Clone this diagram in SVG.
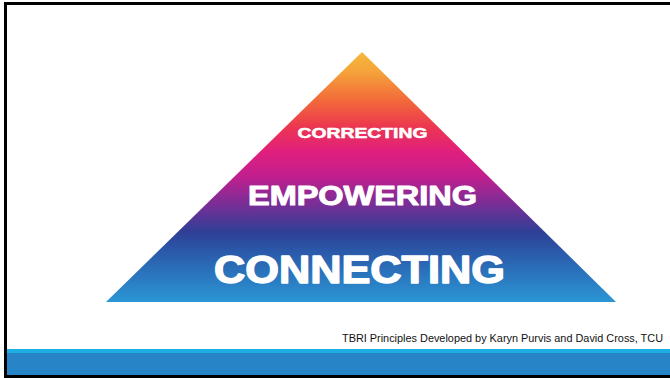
<svg xmlns="http://www.w3.org/2000/svg" width="670" height="378" viewBox="0 0 670 378">
  <defs>
    <linearGradient id="pyr" x1="0" y1="52" x2="0" y2="302" gradientUnits="userSpaceOnUse">
      <stop offset="0" stop-color="#F6B83A"/>
      <stop offset="0.08" stop-color="#F5A23A"/>
      <stop offset="0.2" stop-color="#F2673A"/>
      <stop offset="0.3" stop-color="#EC3650"/>
      <stop offset="0.4" stop-color="#E01F7E"/>
      <stop offset="0.5" stop-color="#C01F8E"/>
      <stop offset="0.61" stop-color="#782E96"/>
      <stop offset="0.72" stop-color="#2E3F96"/>
      <stop offset="0.8" stop-color="#2A5AAA"/>
      <stop offset="1" stop-color="#2B96D5"/>
    </linearGradient>
  </defs>
  <style>
    .lbl { font-family: "Liberation Sans", Arial, sans-serif; font-weight: bold; fill: #FFFFFF; stroke: #FFFFFF; stroke-linejoin: round; text-anchor: middle; }
    .foot { font-family: "Liberation Sans", Arial, sans-serif; font-size: 10.5px; fill: #111111; }
  </style>
  <rect x="0" y="0" width="670" height="378" fill="#FFFFFF"/>
  <!-- frame -->
  <rect x="4" y="2" width="666" height="3" fill="#000000"/>
  <rect x="4" y="2" width="3" height="376" fill="#000000"/>
  <!-- footer band -->
  <rect x="7" y="349" width="663" height="4" fill="#1DAEE3"/>
  <rect x="7" y="353" width="663" height="22" fill="#2784C6"/>
  <rect x="4" y="375" width="666" height="3" fill="#000000"/>
  <g id="pyramid">
    <polygon points="362,52 616,302 106,302" fill="url(#pyr)"/>
  </g>
  <g id="correcting">
    <text class="lbl" x="362.5" y="138" font-size="14.5" stroke-width="0.5" textLength="130" lengthAdjust="spacingAndGlyphs">CORRECTING</text>
  </g>
  <g id="empowering">
    <text class="lbl" x="362.5" y="204.5" font-size="27" stroke-width="1" textLength="229" lengthAdjust="spacingAndGlyphs">EMPOWERING</text>
  </g>
  <g id="connecting">
    <text class="lbl" x="359.5" y="282.5" font-size="38" stroke-width="1.4" textLength="291" lengthAdjust="spacingAndGlyphs">CONNECTING</text>
  </g>
  <g id="connectors"/>
  <text class="foot" x="342" y="341.5" textLength="321" lengthAdjust="spacingAndGlyphs">TBRI Principles Developed by Karyn Purvis and David Cross, TCU</text>
</svg>
